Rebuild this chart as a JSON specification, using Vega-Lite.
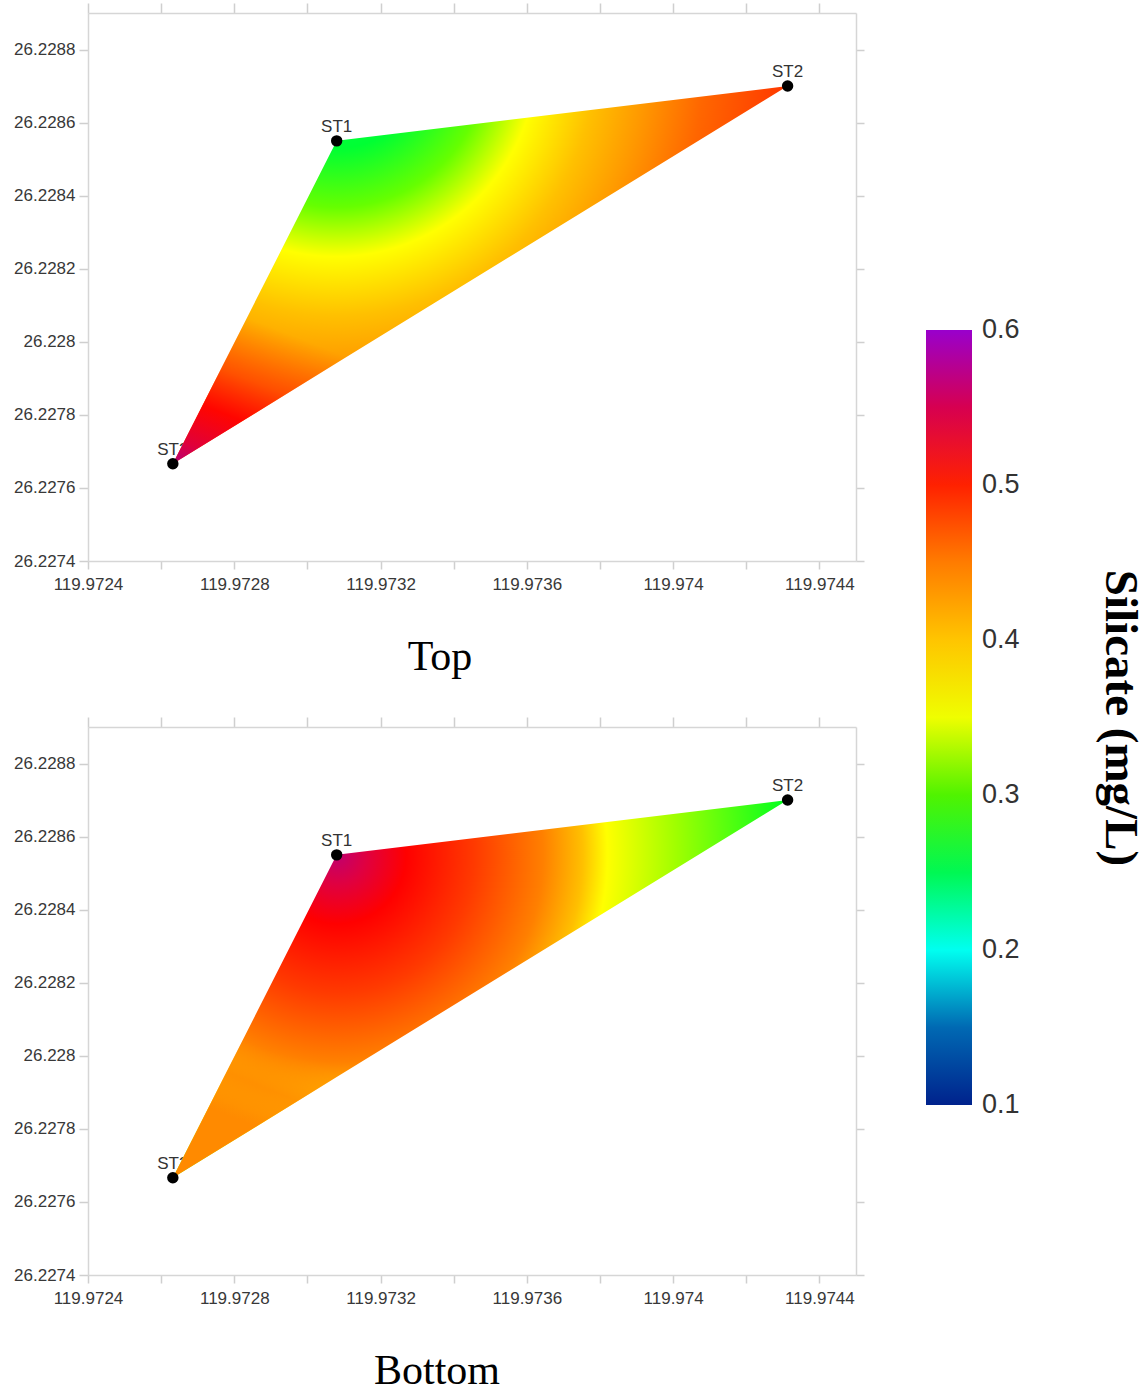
{
  "$schema": "https://vega.github.io/schema/vega-lite/v6.json",
  "padding": {"left": 13, "top": 2, "right": 5, "bottom": 0},
  "background": "white",
  "datasets": {
    "stations": [
      {"panel": "Top", "station": "ST1", "lon": 119.97308, "lat": 26.22855, "silicate": 0.28},
      {"panel": "Top", "station": "ST2", "lon": 119.974313, "lat": 26.2287, "silicate": 0.47},
      {"panel": "Top", "station": "ST3", "lon": 119.972632, "lat": 26.227666, "silicate": 0.55},
      {"panel": "Bottom", "station": "ST1", "lon": 119.97308, "lat": 26.22855, "silicate": 0.55},
      {"panel": "Bottom", "station": "ST2", "lon": 119.974313, "lat": 26.2287, "silicate": 0.28},
      {"panel": "Bottom", "station": "ST3", "lon": 119.972632, "lat": 26.227666, "silicate": 0.43}
    ],
    "poly": [
      {"panel": "Top", "lon": 119.972632, "lat": 26.227666, "lat2": 26.227666},
      {"panel": "Top", "lon": 119.97308, "lat": 26.22855, "lat2": 26.227942},
      {"panel": "Top", "lon": 119.974313, "lat": 26.2287, "lat2": 26.2287},
      {"panel": "Bottom", "lon": 119.972632, "lat": 26.227666, "lat2": 26.227666},
      {"panel": "Bottom", "lon": 119.97308, "lat": 26.22855, "lat2": 26.227942},
      {"panel": "Bottom", "lon": 119.974313, "lat": 26.2287, "lat2": 26.2287}
    ]
  },
  "spacing": 38,
  "vconcat": [
    {
      "width": 768,
      "height": 548,
      "title": {"text": "Top", "orient": "bottom", "anchor": "middle", "offset": 45, "dx": -32},
      "resolve": {"axis": {"x": "independent", "y": "independent"}},
      "layer": [
        {
          "data": {"name": "stations"},
          "transform": [{"filter": "datum.panel === 'Top'"}],
          "mark": {"type": "text", "dy": -9, "baseline": "alphabetic", "align": "center", "font": "Liberation Sans", "fontSize": 17, "color": "#333333"},
          "encoding": {
            "x": {"field": "lon", "type": "quantitative", "scale": {"domain": [119.9724, 119.9745], "zero": false, "nice": false}, "axis": null},
            "y": {"field": "lat", "type": "quantitative", "scale": {"domain": [26.2274, 26.2289], "zero": false, "nice": false}, "axis": null},
            "text": {"field": "station"}
          }
        },
        {
          "data": {"name": "poly"},
          "transform": [{"filter": "datum.panel === 'Top'"}],
          "mark": {
            "type": "area",
            "fill": {
              "gradient": "radial",
              "x1": 0.265, "y1": 0.142, "r1": 0,
              "x2": 0.265, "y2": 0.142, "r2": 0.8,
              "stops": [
                {"offset": 0, "color": "#00ff66"},
                {"offset": 0.19, "color": "#00ff33"},
                {"offset": 0.31, "color": "#66ff00"},
                {"offset": 0.41, "color": "#ffff00"},
                {"offset": 0.53, "color": "#ffc000"},
                {"offset": 0.63, "color": "#ff9900"},
                {"offset": 0.75, "color": "#ff6600"},
                {"offset": 0.92, "color": "#ff3800"},
                {"offset": 1, "color": "#ff2000"}
              ]
            }
          },
          "encoding": {
            "x": {"field": "lon", "type": "quantitative", "scale": {"domain": [119.9724, 119.9745], "zero": false, "nice": false},
                  "axis": {"orient": "bottom", "values": [119.9724, 119.9726, 119.9728, 119.973, 119.9732, 119.9734, 119.9736, 119.9738, 119.974, 119.9742, 119.9744],
                           "labelExpr": "round(datum.value*10000) % 4 == 0 ? format(datum.value, '.4~f') : ''", "tickSize": 8, "labelPadding": 7}},
            "y": {"field": "lat", "type": "quantitative", "scale": {"domain": [26.2274, 26.2289], "zero": false, "nice": false},
                  "axis": {"orient": "left", "values": [26.2274, 26.2276, 26.2278, 26.228, 26.2282, 26.2284, 26.2286, 26.2288], "format": ".4~f", "tickSize": 9, "labelPadding": 4}},
            "y2": {"field": "lat2"}
          }
        },
        {
          "data": {"name": "poly"},
          "transform": [{"filter": "datum.panel === 'Top'"}],
          "mark": {
            "type": "area",
            "fill": {
              "gradient": "linear",
              "x1": 0.21, "y1": 0.67, "x2": 0, "y2": 1,
              "stops": [
                {"offset": 0, "color": "rgba(255,30,0,0)"},
                {"offset": 0.35, "color": "rgba(255,20,0,0.45)"},
                {"offset": 0.6, "color": "rgba(255,0,0,0.95)"},
                {"offset": 0.85, "color": "#e0003a"},
                {"offset": 1, "color": "#b4007a"}
              ]
            }
          },
          "encoding": {
            "x": {"field": "lon", "type": "quantitative", "scale": {"domain": [119.9724, 119.9745], "zero": false, "nice": false}, "axis": null},
            "y": {"field": "lat", "type": "quantitative", "scale": {"domain": [26.2274, 26.2289], "zero": false, "nice": false}, "axis": null},
            "y2": {"field": "lat2"}
          }
        },
        {
          "data": {"name": "stations"},
          "transform": [{"filter": "datum.panel === 'Top'"}],
          "mark": {"type": "point", "filled": true, "opacity": 0},
          "encoding": {
            "x": {"field": "lon", "type": "quantitative", "scale": {"domain": [119.9724, 119.9745], "zero": false, "nice": false},
                  "axis": {"orient": "top", "values": [119.9724, 119.9726, 119.9728, 119.973, 119.9732, 119.9734, 119.9736, 119.9738, 119.974, 119.9742, 119.9744], "labels": false, "tickSize": 10}},
            "y": {"field": "lat", "type": "quantitative", "scale": {"domain": [26.2274, 26.2289], "zero": false, "nice": false},
                  "axis": {"orient": "right", "values": [26.2274, 26.2276, 26.2278, 26.228, 26.2282, 26.2284, 26.2286, 26.2288], "labels": false, "tickSize": 8}},
            "color": {
              "field": "silicate", "type": "quantitative",
              "scale": {"domain": [0.1, 0.148, 0.195, 0.234, 0.275, 0.355, 0.434, 0.518, 0.6],
                        "range": ["#00228c", "#0062b0", "#00ffff", "#00ff88", "#00ee00", "#ffff00", "#ff9900", "#ff0000", "#9900cc"],
                        "interpolate": "rgb"},
              "legend": {"title": "Silicate (mg/L)", "values": [0.1, 0.2, 0.3, 0.4, 0.5, 0.6], "format": ".1f", "labelOffset": 10,
                         "encode": {"labels": {"update": {"baseline": {"value": "middle"}}}}}
            }
          }
        },
        {
          "data": {"name": "stations"},
          "transform": [{"filter": "datum.panel === 'Top'"}],
          "mark": {"type": "point", "filled": true, "color": "black", "size": 130, "opacity": 1},
          "encoding": {
            "x": {"field": "lon", "type": "quantitative", "scale": {"domain": [119.9724, 119.9745], "zero": false, "nice": false}, "axis": null},
            "y": {"field": "lat", "type": "quantitative", "scale": {"domain": [26.2274, 26.2289], "zero": false, "nice": false}, "axis": null}
          }
        }
      ]
    },
    {
      "width": 768,
      "height": 548,
      "title": {"text": "Bottom", "orient": "bottom", "anchor": "middle", "offset": 45, "dx": -35},
      "resolve": {"axis": {"x": "independent", "y": "independent"}},
      "layer": [
        {
          "data": {"name": "stations"},
          "transform": [{"filter": "datum.panel === 'Bottom'"}],
          "mark": {"type": "text", "dy": -9, "baseline": "alphabetic", "align": "center", "font": "Liberation Sans", "fontSize": 17, "color": "#333333"},
          "encoding": {
            "x": {"field": "lon", "type": "quantitative", "scale": {"domain": [119.9724, 119.9745], "zero": false, "nice": false}, "axis": null},
            "y": {"field": "lat", "type": "quantitative", "scale": {"domain": [26.2274, 26.2289], "zero": false, "nice": false}, "axis": null},
            "text": {"field": "station"}
          }
        },
        {
          "data": {"name": "poly"},
          "transform": [{"filter": "datum.panel === 'Bottom'"}],
          "mark": {
            "type": "area",
            "fill": {
              "gradient": "radial",
              "x1": 0.267, "y1": 0.282, "r1": 0,
              "x2": 0.267, "y2": 0.282, "r2": 0.8,
              "stops": [
                {"offset": 0, "color": "#c0006e"},
                {"offset": 0.06, "color": "#e00040"},
                {"offset": 0.14, "color": "#ff0000"},
                {"offset": 0.28, "color": "#ff3a00"},
                {"offset": 0.42, "color": "#ff8000"},
                {"offset": 0.5, "color": "#ffc000"},
                {"offset": 0.55, "color": "#ffff00"},
                {"offset": 0.69, "color": "#a0ff00"},
                {"offset": 0.92, "color": "#00ff20"},
                {"offset": 1, "color": "#00ff40"}
              ]
            }
          },
          "encoding": {
            "x": {"field": "lon", "type": "quantitative", "scale": {"domain": [119.9724, 119.9745], "zero": false, "nice": false},
                  "axis": {"orient": "bottom", "values": [119.9724, 119.9726, 119.9728, 119.973, 119.9732, 119.9734, 119.9736, 119.9738, 119.974, 119.9742, 119.9744],
                           "labelExpr": "round(datum.value*10000) % 4 == 0 ? format(datum.value, '.4~f') : ''", "tickSize": 8, "labelPadding": 7}},
            "y": {"field": "lat", "type": "quantitative", "scale": {"domain": [26.2274, 26.2289], "zero": false, "nice": false},
                  "axis": {"orient": "left", "values": [26.2274, 26.2276, 26.2278, 26.228, 26.2282, 26.2284, 26.2286, 26.2288], "format": ".4~f", "tickSize": 9, "labelPadding": 4}},
            "y2": {"field": "lat2"}
          }
        },
        {
          "data": {"name": "poly"},
          "transform": [{"filter": "datum.panel === 'Bottom'"}],
          "mark": {
            "type": "area",
            "fill": {
              "gradient": "linear",
              "x1": 0.208, "y1": 0.688, "x2": 0, "y2": 1,
              "stops": [
                {"offset": 0, "color": "rgba(255,125,0,0)"},
                {"offset": 0.25, "color": "rgba(255,125,0,0.7)"},
                {"offset": 0.5, "color": "#ff8a00"},
                {"offset": 1, "color": "#ff8a00"}
              ]
            }
          },
          "encoding": {
            "x": {"field": "lon", "type": "quantitative", "scale": {"domain": [119.9724, 119.9745], "zero": false, "nice": false}, "axis": null},
            "y": {"field": "lat", "type": "quantitative", "scale": {"domain": [26.2274, 26.2289], "zero": false, "nice": false}, "axis": null},
            "y2": {"field": "lat2"}
          }
        },
        {
          "data": {"name": "stations"},
          "transform": [{"filter": "datum.panel === 'Bottom'"}],
          "mark": {"type": "point", "filled": true, "opacity": 0},
          "encoding": {
            "x": {"field": "lon", "type": "quantitative", "scale": {"domain": [119.9724, 119.9745], "zero": false, "nice": false},
                  "axis": {"orient": "top", "values": [119.9724, 119.9726, 119.9728, 119.973, 119.9732, 119.9734, 119.9736, 119.9738, 119.974, 119.9742, 119.9744], "labels": false, "tickSize": 10}},
            "y": {"field": "lat", "type": "quantitative", "scale": {"domain": [26.2274, 26.2289], "zero": false, "nice": false},
                  "axis": {"orient": "right", "values": [26.2274, 26.2276, 26.2278, 26.228, 26.2282, 26.2284, 26.2286, 26.2288], "labels": false, "tickSize": 8}},
            "color": {
              "field": "silicate", "type": "quantitative",
              "scale": {"domain": [0.1, 0.148, 0.195, 0.234, 0.275, 0.355, 0.434, 0.518, 0.6],
                        "range": ["#00228c", "#0062b0", "#00ffff", "#00ff88", "#00ee00", "#ffff00", "#ff9900", "#ff0000", "#9900cc"],
                        "interpolate": "rgb"},
              "legend": {"title": "Silicate (mg/L)", "values": [0.1, 0.2, 0.3, 0.4, 0.5, 0.6], "format": ".1f", "labelOffset": 10,
                         "encode": {"labels": {"update": {"baseline": {"value": "middle"}}}}}
            }
          }
        },
        {
          "data": {"name": "stations"},
          "transform": [{"filter": "datum.panel === 'Bottom'"}],
          "mark": {"type": "point", "filled": true, "color": "black", "size": 130, "opacity": 1},
          "encoding": {
            "x": {"field": "lon", "type": "quantitative", "scale": {"domain": [119.9724, 119.9745], "zero": false, "nice": false}, "axis": null},
            "y": {"field": "lat", "type": "quantitative", "scale": {"domain": [26.2274, 26.2289], "zero": false, "nice": false}, "axis": null}
          }
        }
      ]
    }
  ],
  "config": {
    "view": {"stroke": null},
    "axis": {
      "domainColor": "#d6d6d6", "domainWidth": 1.5,
      "tickColor": "#cfcfcf", "tickWidth": 1.5,
      "labelFont": "Liberation Sans", "labelFontSize": 17, "labelColor": "#383838",
      "grid": false, "title": null, "labelFlush": false, "labelOverlap": false
    },
    "title": {"font": "Liberation Serif", "fontSize": 42, "fontWeight": "normal", "color": "#000000"},
    "legend": {
      "orient": "none", "legendX": 838, "legendY": 317, "direction": "vertical",
      "gradientLength": 775, "gradientThickness": 46, "gradientStrokeWidth": 0,
      "labelFont": "Liberation Sans", "labelFontSize": 27, "labelColor": "#333333", "labelOffset": 10,
      "labelBaseline": "middle", "labelOverlap": false,
      "titleOrient": "right", "titleAnchor": "middle", "titleFont": "Liberation Serif", "titleFontSize": 47,
      "titleFontWeight": "bold", "titleColor": "#000000", "titlePadding": 76, "titleLimit": 0
    }
  }
}
